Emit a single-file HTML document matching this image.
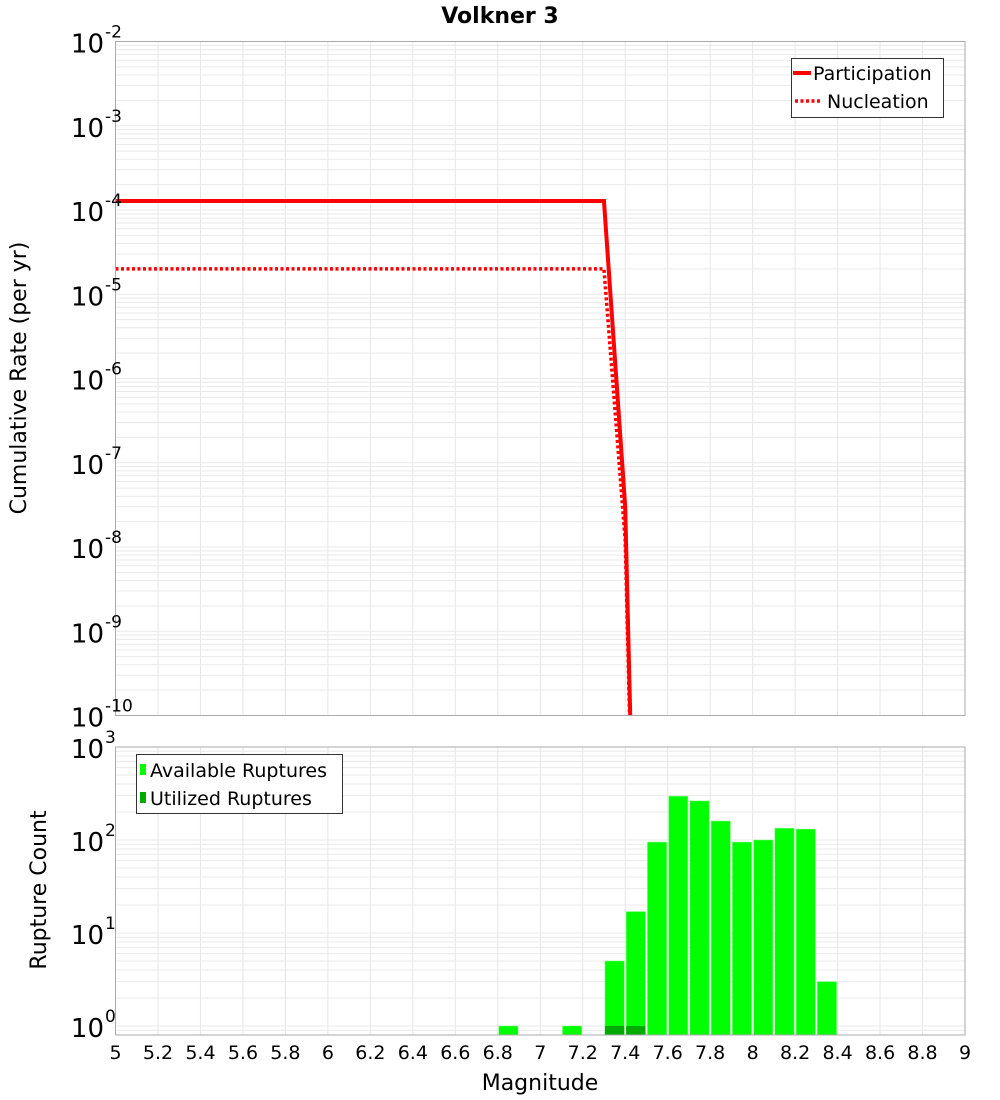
<!DOCTYPE html>
<html><head><meta charset="utf-8">
<style>
html,body{margin:0;padding:0;background:#fff;}
svg{display:block;font-family:"DejaVu Sans","Liberation Sans",sans-serif;}
</style></head>
<body>
<svg id="chart" width="1000" height="1100" xmlns="http://www.w3.org/2000/svg">
<text x="500" y="23" text-anchor="middle" font-size="22" font-weight="bold">Volkner 3</text>
<g id="topPlot"></g>
<g id="botPlot"></g>
<text transform="translate(26,378) rotate(-90)" text-anchor="middle" font-size="22">Cumulative Rate (per yr)</text>
<text transform="translate(46,890) rotate(-90)" text-anchor="middle" font-size="22">Rupture Count</text>
<text x="540" y="1090" text-anchor="middle" font-size="22">Magnitude</text>
</svg>
<script>
const xTicks = ["5","5.2","5.4","5.6","5.8","6","6.2","6.4","6.6","6.8","7","7.2","7.4","7.6","7.8","8","8.2","8.4","8.6","8.8","9"];
const partMags = [5.0, 7.3, 7.4, 7.5];
const partRates = [1.28e-4, 1.28e-4, 3.0e-8, 1e-18];
const nuclMags = [5.0, 7.3, 7.4, 7.5];
const nuclRates = [2.0e-5, 2.0e-5, 1.2e-8, 1e-18];
const barMags = [6.8, 7.1, 7.3, 7.4, 7.5, 7.6, 7.7, 7.8, 7.9, 8.0, 8.1, 8.2, 8.3];
const availCounts = [1, 1, 5, 17, 95, 296, 263, 160, 95, 100, 134, 131, 3];
const usedMags = [7.3, 7.4];
const usedCounts = [1, 1];

const NS = "http://www.w3.org/2000/svg";
function mk(tag, attrs, parent){const e=document.createElementNS(NS,tag);for(const k in attrs)e.setAttribute(k,attrs[k]);parent.appendChild(e);return e;}
const L=115.5,R=965;
const xS = m => L + (m-5)/4*(R-L);
const tT=41.5,tB=715.5,tMin=-10,tMax=-2;
const yT = v => tT + (tMax-Math.log10(v))/(tMax-tMin)*(tB-tT);
const bT=747,bB=1035,bMax=3,bMin=-9/93;
const yB = v => bT + (bMax-Math.log10(v))/(bMax-bMin)*(bB-bT);

function grid(g, gtop, gbot, lo, hi, yf){
  for(let i=0;i<=20;i++){const x=xS(5+i*0.2);
    const l=mk('line',{x1:x,x2:x,y1:gtop,y2:gbot,stroke:'#e6e6e6','stroke-width':1},g);
    
    }
  for(let d=Math.floor(lo);d<hi;d++){for(let k=1;k<10;k++){const v=k*Math.pow(10,d);const y=yf(v);
    if(y<gtop-0.5||y>gbot+0.5)continue;
    const l=mk('line',{x1:L,x2:R,y1:y,y2:y,stroke:'#e9e9e9','stroke-width':1},g);
    
    }}
}
function yLabels(g, lo, hi, yf, w){
  for(let d=lo; d<=hi; d++){const y=yf(Math.pow(10,d));
    const t=mk('text',{x:w,y:y+11,'text-anchor':'end','font-size':26},g);
    t.textContent='10';
    
    
    const s=mk('text',{x:w+1,y:y-4,'font-size':17},g);
    s.textContent=String(d);
    
    }
}
const topG=document.getElementById('topPlot');
grid(topG,tT,tB,tMin,tMax,yT);
const cp=mk('clipPath',{id:'ctop'},topG);mk('rect',{x:L,y:tT,width:R-L,height:tB-tT},cp);
const gl=mk('g',{'clip-path':'url(#ctop)'},topG);
const pl=mk('polyline',{points:partMags.map((m,i)=>xS(m)+','+yT(partRates[i])).join(' '),fill:'none',stroke:'#ff0000','stroke-width':4},gl);


const nl=mk('polyline',{points:nuclMags.map((m,i)=>xS(m)+','+yT(nuclRates[i])).join(' '),fill:'none',stroke:'#ff0000','stroke-width':3.5,'stroke-dasharray':'3,2.5'},gl);


const fr1=mk('rect',{x:L,y:tT,width:R-L,height:tB-tT,fill:'none',stroke:'#aaa','stroke-width':1},topG);


yLabels(topG,-10,-2,yT,104);
const lg=mk('g',{},topG);


mk('rect',{x:791.5,y:58.5,width:152,height:59,fill:'#fff',stroke:'#333','stroke-width':1},lg);
mk('line',{x1:793,x2:811,y1:73,y2:73,stroke:'#ff0000','stroke-width':4},lg);
mk('line',{x1:795,x2:820,y1:101,y2:101,stroke:'#ff0000','stroke-width':3.5,'stroke-dasharray':'3,2.5'},lg);
let t1=mk('text',{x:813,y:80,'font-size':19},lg);t1.textContent='Participation';


let t2=mk('text',{x:827,y:108,'font-size':19},lg);t2.textContent='Nucleation';


const botG=document.getElementById('botPlot');
grid(botG,bT,bB,-1,3,yB);
barMags.forEach((m,i)=>{const y=yB(availCounts[i]);
  const r=mk('rect',{x:xS(m)+1,y:y,width:xS(m+0.1)-xS(m)-2,height:bB-y,fill:'#00ff00',stroke:'#7fff7f','stroke-width':0.5},botG);
  
  });
usedMags.forEach((m,i)=>{const y=yB(usedCounts[i]);
  const r=mk('rect',{x:xS(m)+1,y:y,width:xS(m+0.1)-xS(m)-2,height:bB-y,fill:'#00aa00'},botG);
  
  });
const fr2=mk('rect',{x:L,y:bT,width:R-L,height:bB-bT,fill:'none',stroke:'#aaa','stroke-width':1},botG);


yLabels(botG,0,3,yB,104);
xTicks.forEach(s=>{const t=mk('text',{x:xS(parseFloat(s)),y:1059,'text-anchor':'middle','font-size':19},botG);
  t.textContent=s;
  
  });
const lb=mk('g',{},botG);


mk('rect',{x:136.5,y:754.5,width:206,height:59,fill:'#fff',stroke:'#333','stroke-width':1},lb);
mk('rect',{x:140,y:764,width:6,height:11,fill:'#00ff00'},lb);
mk('rect',{x:140,y:792,width:6,height:11,fill:'#00aa00'},lb);
let t3=mk('text',{x:150,y:777,'font-size':19},lb);t3.textContent='Available Ruptures';


let t4=mk('text',{x:150,y:805,'font-size':19},lb);t4.textContent='Utilized Ruptures';


</script>
</body></html>
